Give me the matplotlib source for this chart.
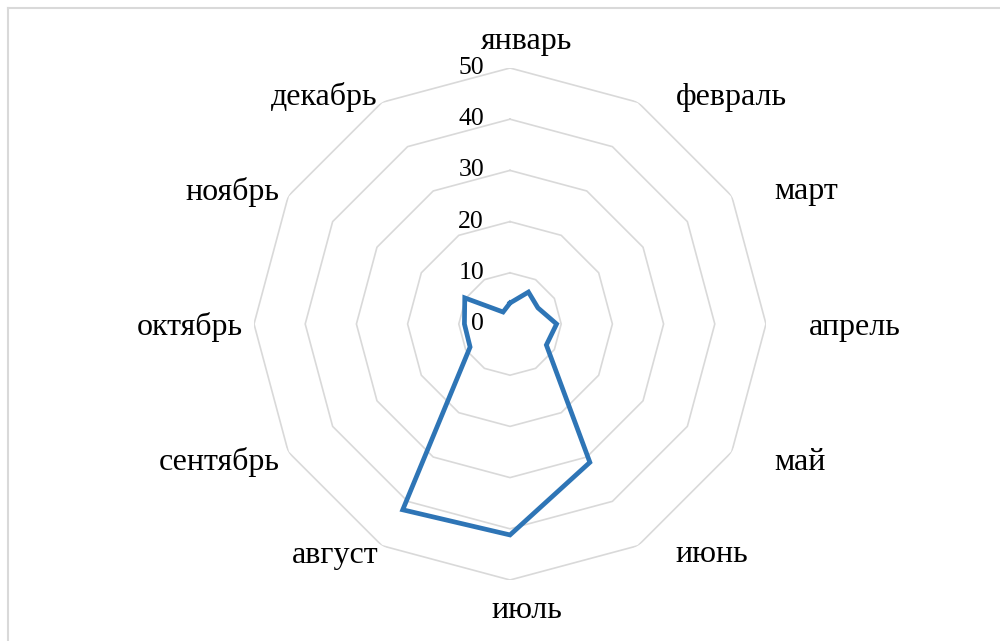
import numpy as np
import matplotlib
matplotlib.use("Agg")
import matplotlib.pyplot as plt
from matplotlib.transforms import offset_copy

# Месяцы и значения
months = ["январь", "февраль", "март", "апрель", "май", "июнь",
          "июль", "август", "сентябрь", "октябрь", "ноябрь", "декабрь"]
values = [4.1, 7.2, 6.3, 9.1, 8.2, 31.2, 41.2, 41.9, 9.0, 8.9, 10.2, 2.7]
ticks = [0, 10, 20, 30, 40, 50]

# Centres of month labels in pixels (layout only)
label_px = [(527, 42), (731, 97), (806, 192), (855, 327), (800, 462), (712, 555),
            (527, 610), (335, 555), (219, 462), (190, 327), (232, 192), (324, 97)]

plt.rcParams["font.family"] = ["Liberation Serif", "DejaVu Serif"]

W, H = 1000, 641
fig = plt.figure(figsize=(W / 100, H / 100), dpi=100)

cx, cy, R = 510, 324, 256
ax = fig.add_axes([(cx - R) / W, (H - cy - R) / H, 2 * R / W, 2 * R / H], projection="polar")
ax.set_theta_zero_location("N")
ax.set_theta_direction(-1)
ax.set_ylim(0, 50)
ax.grid(False)
ax.spines["polar"].set_visible(False)
ax.set_xticks([])
ax.set_yticks([])
ax.patch.set_alpha(0)

theta = np.linspace(0, 2 * np.pi, len(months), endpoint=False)
theta_c = np.append(theta, theta[0])

# Polygon grid
for t in ticks[1:]:
    ax.plot(theta_c, [t] * len(theta_c), color="#D9D9D9", lw=1.2, zorder=1)

# Series
vals_c = values + values[:1]
ax.plot(theta_c, vals_c, color="#2E75B6", lw=3.4, zorder=3, solid_joinstyle="miter")

# Radial tick labels
tr = offset_copy(ax.transData, fig=fig, x=-26, y=0, units="dots")
for t in ticks:
    ax.text(0, t, str(t), transform=tr, ha="right", va="center", fontsize=18.5, color="#000000")

# Month labels
for name, (px, py) in zip(months, label_px):
    fig.text(px / W, 1 - py / H, name, ha="center", va="center", fontsize=23, color="#000000")

# Chart-area border
fig.add_artist(plt.Line2D([8 / W, 8 / W], [0, 1 - 8 / H], color="#D9D9D9", lw=1.5))
fig.add_artist(plt.Line2D([8 / W, 1], [1 - 8 / H, 1 - 8 / H], color="#D9D9D9", lw=1.5))

fig.savefig("out.png", dpi=100)
